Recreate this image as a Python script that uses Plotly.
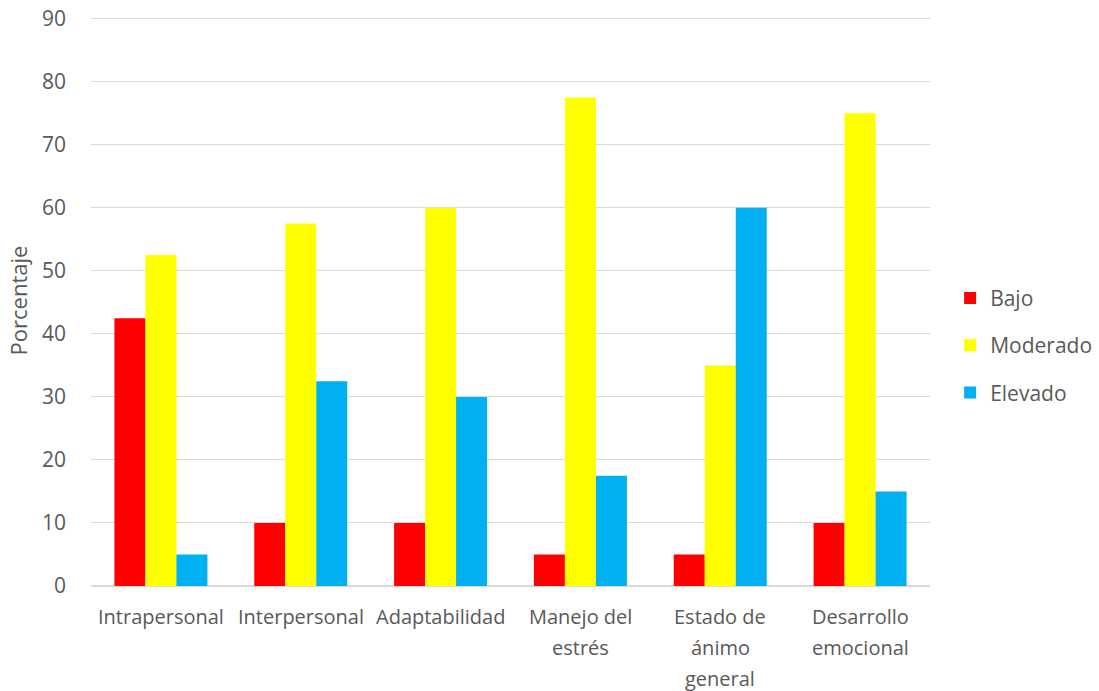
import plotly.graph_objects as go

# Dimensiones del inventario emocional y porcentaje por nivel
categorias = ["Intrapersonal", "Interpersonal", "Adaptabilidad",
              "Manejo del\nestrés", "Estado de\nánimo\ngeneral", "Desarrollo\nemocional"]
bajo = [42.5, 10, 10, 5, 5, 10]
moderado = [52.5, 57.5, 60, 77.5, 35, 75]
elevado = [5, 32.5, 30, 17.5, 60, 15]
series = [("Bajo", bajo, "#FF0000"),
          ("Moderado", moderado, "#FFFF00"),
          ("Elevado", elevado, "#00B0F0")]
y_ticks = [0, 10, 20, 30, 40, 50, 60, 70, 80, 90]

TEXT = "#595959"
GRID = "#D9D9D9"

fig = go.Figure()
for nombre, valores, color in series:
    fig.add_trace(go.Bar(x=list(range(len(categorias))), y=valores, name=nombre,
                         legendgroup=nombre,
                         marker=dict(color=color, line=dict(width=0))))

# Category labels, one annotation per line for wider line spacing
for i, cat in enumerate(categorias):
    for j, linea in enumerate(cat.split("\n")):
        fig.add_annotation(x=i, xref="x", y=0, yref="paper",
                           text=linea, showarrow=False, yanchor="top",
                           yshift=-15 - 31 * j,
                           font=dict(family="Open Sans", size=20, color=TEXT))

fig.update_layout(
    width=1099, height=691,
    margin=dict(l=91, r=169, t=15, b=105, autoexpand=False),
    paper_bgcolor="white", plot_bgcolor="white",
    barmode="group", bargap=0.335, bargroupgap=0,
    font=dict(family="Open Sans", size=20, color=TEXT),
    xaxis=dict(range=[-0.5, len(categorias) - 0.5], showticklabels=False,
               showgrid=False, zeroline=False, showline=False, ticks=""),
    yaxis=dict(range=[0, 90.6], tickvals=y_ticks, showgrid=True, gridcolor=GRID,
               gridwidth=1, zeroline=True, zerolinecolor=GRID, zerolinewidth=1.5,
               ticks="", ticklabelstandoff=24, tickfont=dict(size=21, color=TEXT),
               title=dict(text="Porcentaje", standoff=8, font=dict(size=22, color=TEXT))),
    legend=dict(x=1.024, y=0.4215, yanchor="middle", xanchor="left",
                font=dict(size=21, color=TEXT), itemwidth=30, tracegroupgap=17,
                traceorder="grouped"),
    showlegend=True,
)

fig.write_html("out.html")
